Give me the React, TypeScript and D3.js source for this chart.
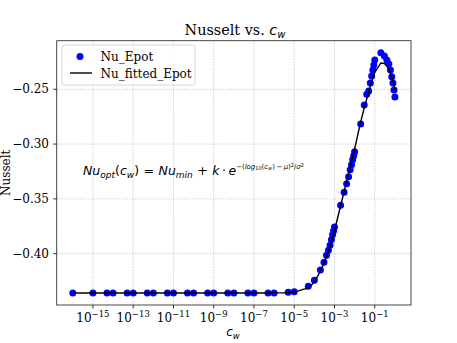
import React from 'react';
import * as d3 from 'd3';

// sampled c_w values and the measured / fitted Nusselt numbers
const cw = [
  1e-16, 1e-15, 5e-15, 1e-14, 5e-14, 1e-13, 5e-13, 1e-12, 5e-12, 1e-11, 5e-11,
  1e-10, 5e-10, 1e-9, 5e-9, 1e-8, 5e-8, 1e-7, 5e-7, 1e-6, 5e-6, 1e-5, 5e-5,
  1e-4, 2e-4, 3e-4, 4e-4, 5e-4, 6e-4, 7e-4, 8e-4, 9e-4,
  1e-3, 2e-3, 3e-3, 4e-3, 5e-3, 6e-3, 7e-3, 8e-3, 9e-3,
  1e-2, 2e-2, 3e-2, 4e-2, 5e-2, 6e-2, 7e-2, 8e-2, 9e-2,
  0.1, 0.2, 0.3, 0.4, 0.5, 0.6, 0.7, 0.8, 0.9, 1.0,
];

const nuEpot = [
  -0.4358, -0.4358, -0.4358, -0.4358, -0.4358, -0.4358, -0.4358, -0.4358, -0.4358, -0.4358, -0.4358,
  -0.4358, -0.4358, -0.4358, -0.4358, -0.4358, -0.4358, -0.4358, -0.4358, -0.4358, -0.4352, -0.4346, -0.4298,
  -0.4243, -0.4148, -0.4077, -0.4014, -0.3968, -0.3923, -0.3873, -0.3827, -0.3790,
  -0.3757, -0.3558, -0.3440, -0.3362, -0.3299, -0.3235, -0.3189, -0.3144, -0.3107,
  -0.3071, -0.2816, -0.2643, -0.2545, -0.2515, -0.2443, -0.2379, -0.2324, -0.2279,
  -0.2233, -0.2167, -0.2197, -0.2233, -0.2270, -0.2324, -0.2385, -0.2443, -0.2506, -0.2570,
];

const nuFitted = [
  -0.4358, -0.4358, -0.4358, -0.4358, -0.4358, -0.4358, -0.4358, -0.4358, -0.4358, -0.4358, -0.4358,
  -0.4358, -0.4358, -0.4358, -0.4358, -0.4358, -0.4358, -0.4358, -0.4358, -0.4357, -0.4356, -0.4350, -0.4312,
  -0.4260, -0.4158, -0.4088, -0.4030, -0.3980, -0.3935, -0.3893, -0.3855, -0.3820,
  -0.3788, -0.3565, -0.3433, -0.3340, -0.3268, -0.3208, -0.3158, -0.3115, -0.3077,
  -0.3043, -0.2798, -0.2670, -0.2588, -0.2525, -0.2470, -0.2434, -0.2397, -0.2370,
  -0.2347, -0.2260, -0.2265, -0.2288, -0.2320, -0.2352, -0.2388, -0.2424, -0.2461, -0.2497,
];

const xTickExps = [-15, -13, -11, -9, -7, -5, -3, -1];
const yTicks = [-0.40, -0.35, -0.30, -0.25];

const W = 457, H = 343;
const L = 56.7, R = 411, T = 40.7, B = 305;
const serif = '"DejaVu Serif", serif';
const sans = '"DejaVu Sans", sans-serif';

export default function App() {
  const x = d3.scaleLog().domain([Math.pow(10, -16.8), Math.pow(10, 0.8)]).range([L, R]);
  const y = d3.scaleLinear().domain([-0.4468, -0.2057]).range([B, T]);

  const pts = cw.map((c, i) => ({ c, v: nuEpot[i], f: nuFitted[i] }));
  const line = d3.line<any>().x(d => x(d.c)).y(d => y(d.f));
  const minus = (s: string) => s.replace('-', '\u2212');

  const ex = 6.9;  // exponent font size
  const ex2 = 5;   // nested subscript size

  return (
    <svg width={W} height={H} style={{ position: 'absolute', left: 0, top: 0, background: '#fff' }}>
      <rect x={0} y={0} width={W} height={H} fill="#fff" />
      {/* grid */}
      <g stroke="#b0b0b0" strokeWidth={0.8} strokeDasharray="1,1.6">
        {xTickExps.map(e => (
          <line key={'gx' + e} x1={x(Math.pow(10, e))} x2={x(Math.pow(10, e))} y1={T} y2={B} />
        ))}
        {yTicks.map(t => (
          <line key={'gy' + t} x1={L} x2={R} y1={y(t)} y2={y(t)} />
        ))}
      </g>

      {/* data */}
      <g fill="#0000ff">
        {pts.map((d, i) => (
          <circle key={i} cx={x(d.c)} cy={y(d.v)} r={3.5} />
        ))}
      </g>
      <path d={line(pts) || ''} fill="none" stroke="#000" strokeWidth={1.4} />

      {/* frame */}
      <rect x={L} y={T} width={R - L} height={B - T} fill="none" stroke="#333" strokeWidth={0.9} />

      {/* x axis */}
      <g fontFamily={serif} fill="#000">
        {xTickExps.map(e => {
          const px = x(Math.pow(10, e));
          return (
            <g key={'tx' + e}>
              <line x1={px} x2={px} y1={B} y2={B + 3.5} stroke="#000" strokeWidth={0.8} />
              <text x={px} y={322} textAnchor="middle" fontSize={12}>
                10<tspan fontSize={8.5} dy={-5}>{'\u2212' + Math.abs(e)}</tspan>
              </text>
            </g>
          );
        })}
      </g>
      <text x={233} y={336} textAnchor="middle" fontFamily={sans} fontStyle="italic" fontSize={12}>
        c<tspan fontSize={8.5} dy={2.5}>w</tspan>
      </text>

      {/* y axis */}
      <g fontFamily={serif}>
        {yTicks.map(t => (
          <g key={'ty' + t}>
            <line x1={L - 3.5} x2={L} y1={y(t)} y2={y(t)} stroke="#000" strokeWidth={0.8} />
            <text x={49} y={y(t) + 4.2} textAnchor="end" fontSize={12}>{minus(t.toFixed(2))}</text>
          </g>
        ))}
      </g>
      <text transform={`translate(9.5,${(T + B) / 2}) rotate(-90)`} textAnchor="middle" fontFamily={serif} fontSize={12}>
        Nusselt
      </text>

      {/* title */}
      <text x={235} y={35} textAnchor="middle" fontFamily={serif} fontSize={14.4}>
        Nusselt vs. <tspan fontFamily={sans} fontStyle="italic">c</tspan>
        <tspan fontFamily={sans} fontStyle="italic" fontSize={10} dy={3}>w</tspan>
      </text>

      {/* equation */}
      <text x={83} y={175} fontFamily={sans} fontSize={12.5}>
        <tspan fontStyle="italic">Nu</tspan>
        <tspan fontStyle="italic" fontSize={9} dy={2.5}>opt</tspan>
        <tspan dy={-2.5}>(</tspan>
        <tspan fontStyle="italic">c</tspan>
        <tspan fontStyle="italic" fontSize={9} dy={2.5}>w</tspan>
        <tspan dy={-2.5}>)</tspan>
        <tspan dx={4.5}>=</tspan>
        <tspan dx={4.5} fontStyle="italic">Nu</tspan>
        <tspan fontStyle="italic" fontSize={9} dy={2.5}>min</tspan>
        <tspan dx={4.5} dy={-2.5}>+</tspan>
        <tspan dx={4.5} fontStyle="italic">k</tspan>
        <tspan dx={2.5}>·</tspan>
        <tspan dx={2.5} fontStyle="italic">e</tspan>
        <tspan fontSize={ex} dy={-6}>{'\u2212('}</tspan>
        <tspan fontSize={ex} fontStyle="italic">log</tspan>
        <tspan fontSize={ex2} dy={1.3}>10</tspan>
        <tspan fontSize={ex} dy={-1.3}>(</tspan>
        <tspan fontSize={ex} fontStyle="italic">c</tspan>
        <tspan fontSize={ex2} fontStyle="italic" dy={1.3}>w</tspan>
        <tspan fontSize={ex} dy={-1.3}>)</tspan>
        <tspan fontSize={ex} dx={1.5}>{'\u2212'}</tspan>
        <tspan fontSize={ex} dx={1.5} fontStyle="italic">μ</tspan>
        <tspan fontSize={ex}>)</tspan>
        <tspan fontSize={ex2} dy={-2.5}>2</tspan>
        <tspan fontSize={ex} dy={2.5}>/</tspan>
        <tspan fontSize={ex} fontStyle="italic">σ</tspan>
        <tspan fontSize={ex2} dy={-2.5}>2</tspan>
      </text>

      {/* legend */}
      <g>
        <rect x={62} y={45} width={133} height={40} rx={2.5} fill="#fff" fillOpacity={0.8} stroke="#cccccc" strokeWidth={0.8} />
        <circle cx={80} cy={56.5} r={3.5} fill="#0000ff" />
        <line x1={70} x2={92} y1={73} y2={73} stroke="#000" strokeWidth={1.4} />
        <text x={100.5} y={61} fontFamily={serif} fontSize={12}>Nu_Epot</text>
        <text x={100.5} y={77.5} fontFamily={serif} fontSize={12}>Nu_fitted_Epot</text>
      </g>
    </svg>
  );
}
